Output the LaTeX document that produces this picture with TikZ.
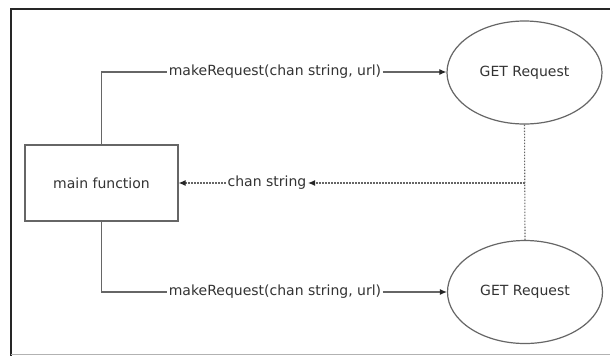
\documentclass[tikz,border=0pt]{standalone}
\usepackage{fontspec}
\setmainfont{DejaVu Sans}
\usetikzlibrary{arrows.meta,shapes.geometric}
\definecolor{ln}{HTML}{666666}
\definecolor{tx}{HTML}{333333}
\tikzset{
  conn/.style={draw=ln, line width=1.1bp},
  tip/.style={-{Latex[length=7bp,width=6bp,color=black!85]}},
  dots/.style={conn, dash pattern=on 1.5bp off 1.5bp},
  lbl/.style={text=tx, font=\fontsize{14bp}{16bp}\selectfont, inner sep=1.5bp},
  boxnode/.style={draw=ln, line width=1.2bp, minimum width=153bp, minimum height=76bp, lbl},
  ell/.style={ellipse, draw=ln, line width=1.2bp, minimum width=155bp, minimum height=103bp, inner sep=0pt, lbl}
}
\begin{document}
\begin{tikzpicture}[x=1bp,y=-1bp]
\useasboundingbox (0,0) rectangle (610,356);
\fill[white] (0,0) rectangle (610,356);
% frame
\draw[line width=2bp, black!85] (610,9) -- (11,9) -- (11,356);
\draw[line width=1.2bp, gray!60] (11,354.5) -- (610,354.5);
% nodes
\node[boxnode] (main) at (101.5,183) {main function};
\node[ell] (g1) at (524.5,72.5) {GET Request};
\node[ell] (g2) at (525,292) {GET Request};
\node[lbl] (t1) at (275,72) {makeRequest(chan string, url)};
\node[lbl] (t2) at (275,292) {makeRequest(chan string, url)};
\node[lbl] (t3) at (267,183) {chan string};
\coordinate (j) at (524.5,183);
% connectors
\draw[conn] (main.north) |- (t1.west);
\draw[conn,tip] (t1.east) -- (t1.east -| g1.west);
\draw[conn] (main.south) |- (t2.west);
\draw[conn,tip] (t2.east) -- (t2.east -| g2.west);
\draw[dots] (g1.south) -- (g2.north);
\draw[dots,tip] (j) -- (t3.east);
\draw[dots,tip] (t3.west) -- (main.east);
\end{tikzpicture}
\end{document}
